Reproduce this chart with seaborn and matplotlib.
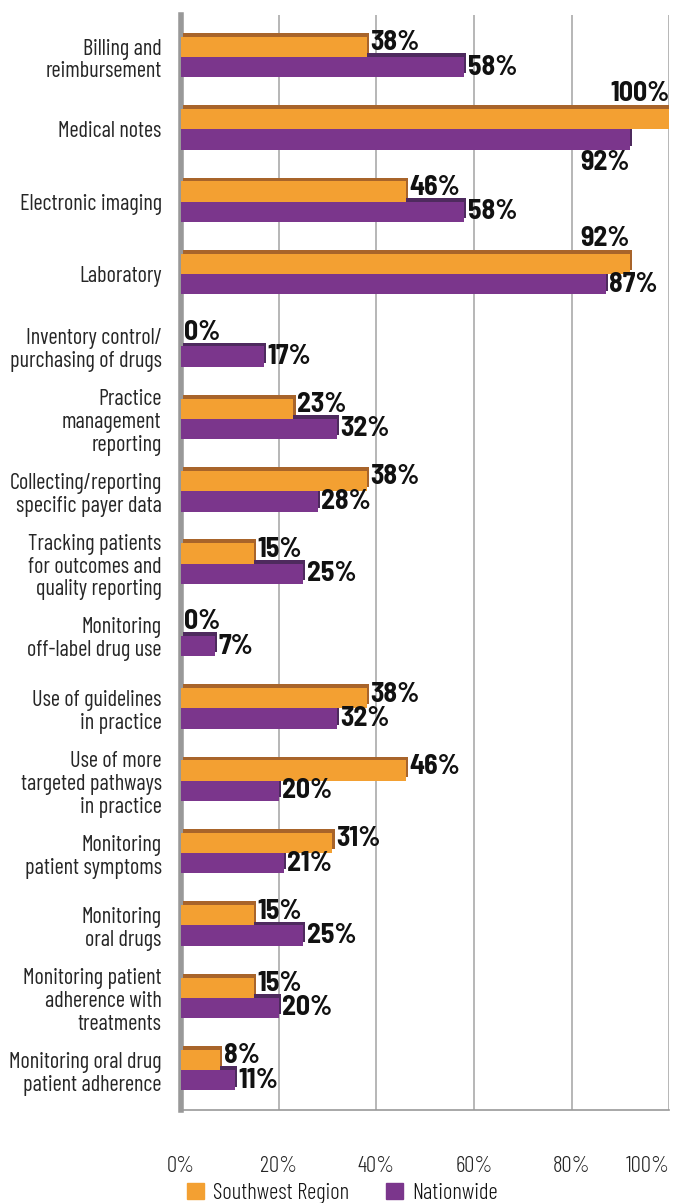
import pandas as pd
import seaborn as sns
import matplotlib.pyplot as plt
import matplotlib.patheffects as pe
from matplotlib.ticker import FixedLocator

categories = [
    "Billing and\nreimbursement",
    "Medical notes",
    "Electronic imaging",
    "Laboratory",
    "Inventory control/\npurchasing of drugs",
    "Practice\nmanagement\nreporting",
    "Collecting/reporting\nspecific payer data",
    "Tracking patients\nfor outcomes and\nquality reporting",
    "Monitoring\noff-label drug use",
    "Use of guidelines\nin practice",
    "Use of more\ntargeted pathways\nin practice",
    "Monitoring\npatient symptoms",
    "Monitoring\noral drugs",
    "Monitoring patient\nadherence with\ntreatments",
    "Monitoring oral drug\npatient adherence",
]
southwest = [38, 100, 46, 92, 0, 23, 38, 15, 0, 38, 46, 31, 15, 15, 8]
nationwide = [58, 92, 58, 87, 17, 32, 28, 25, 7, 32, 20, 21, 25, 20, 11]
series = ["Southwest Region", "Nationwide"]
x_ticks = [0, 20, 40, 60, 80, 100]

FONT = ["Barlow Condensed", "DejaVu Sans"]
BOLD_FONT = ["Barlow Semi Condensed", "Barlow Condensed", "DejaVu Sans"]


def main():
    df = pd.DataFrame({
        "Category": categories * 2,
        "Series": [series[0]] * len(categories) + [series[1]] * len(categories),
        "Value": southwest + nationwide,
    })

    colors = {"Southwest Region": "#F3A032", "Nationwide": "#7B368C"}
    tops = {"Southwest Region": "#A8642A", "Nationwide": "#4E2A5E"}

    sns.set_style("white")
    plt.rcParams["font.family"] = FONT
    plt.rcParams["text.color"] = "#111111"

    fig = plt.figure(figsize=(6.78, 12.03), dpi=100)
    ax = fig.add_axes([0.267, 0.0773, 0.72, 0.9102])

    sns.barplot(
        data=df, y="Category", x="Value", hue="Series", orient="h",
        palette=colors, width=0.56, gap=0, ax=ax, legend=False,
        saturation=1, linewidth=0,
    )

    # fake 3D top edge with a dark shadow, orange drawn over purple
    for container, name in zip(ax.containers, series):
        for bar in container:
            bar.set_zorder(3 if name == series[0] else 2)
            bar.set_path_effects([
                pe.SimplePatchShadow(offset=(1.6, 2.8), shadow_rgbFace=tops[name], alpha=1),
                pe.Normal(),
            ])

    # value labels
    lab_kw = dict(textcoords="offset points", fontsize=20, fontweight="bold",
                  family=BOLD_FONT, zorder=5)
    for container, name in zip(ax.containers, series):
        for bar, v in zip(container, container.datavalues):
            yc = bar.get_y() + bar.get_height() / 2
            end = bar.get_width()
            if v >= 90:
                if name == series[0]:
                    ax.annotate(f"{v:.0f}%", (end, bar.get_y()), xytext=(0, 2),
                                ha="right", va="bottom", **lab_kw)
                else:
                    ax.annotate(f"{v:.0f}%", (end, bar.get_y() + bar.get_height()),
                                xytext=(0, 0), ha="right", va="top", **lab_kw)
            else:
                dy = 3 if name == series[0] else 0
                ax.annotate(f"{v:.0f}%", (end, yc), xytext=(2.5, dy),
                            ha="left", va="center", **lab_kw)

    ax.set_xlim(0, 100)
    ax.set_ylim(len(categories) - 0.45, -0.58)
    ax.xaxis.set_major_locator(FixedLocator(x_ticks))
    ax.set_xticklabels([f"{t}%" for t in x_ticks], fontsize=16.5, fontweight=300)
    ax.get_xticklabels()[-1].set_ha("right")
    ax.yaxis.set_minor_locator(FixedLocator([i + 0.5 for i in range(-1, len(categories))]))
    ax.tick_params(axis="y", which="major", length=0, labelsize=16, pad=14)
    ax.tick_params(axis="y", which="minor", length=5, color="#999999", width=1)
    ax.tick_params(axis="x", length=8, color="#999999", width=1.2, pad=25)
    for lab in ax.get_yticklabels():
        lab.set_ha("right")
        lab.set_multialignment("right")
        lab.set_linespacing(1.12)

    ax.set_xlabel("")
    ax.set_ylabel("")
    ax.grid(axis="x", color="#AAAAAA", linewidth=1.2, zorder=0)
    ax.set_axisbelow(True)
    for s in ["top", "right"]:
        ax.spines[s].set_visible(False)
    ax.spines["left"].set_color("#999999")
    ax.spines["left"].set_linewidth(4)
    ax.spines["left"].set_zorder(1.5)
    ax.spines["bottom"].set_color("#999999")
    ax.spines["bottom"].set_linewidth(1.2)

    handles = [plt.Rectangle((0, 0), 1, 1, color=colors[s]) for s in series]
    fig.legend(handles, series, loc="lower center", bbox_to_anchor=(0.505, -0.018),
               ncol=2, frameon=False, handlelength=0.75,
               handleheight=0.75, handletextpad=0.4, columnspacing=1.6,
               prop={"family": FONT, "size": 16.5, "weight": 300})

    fig.savefig("out.png", dpi=100)


if __name__ == "__main__":
    main()
